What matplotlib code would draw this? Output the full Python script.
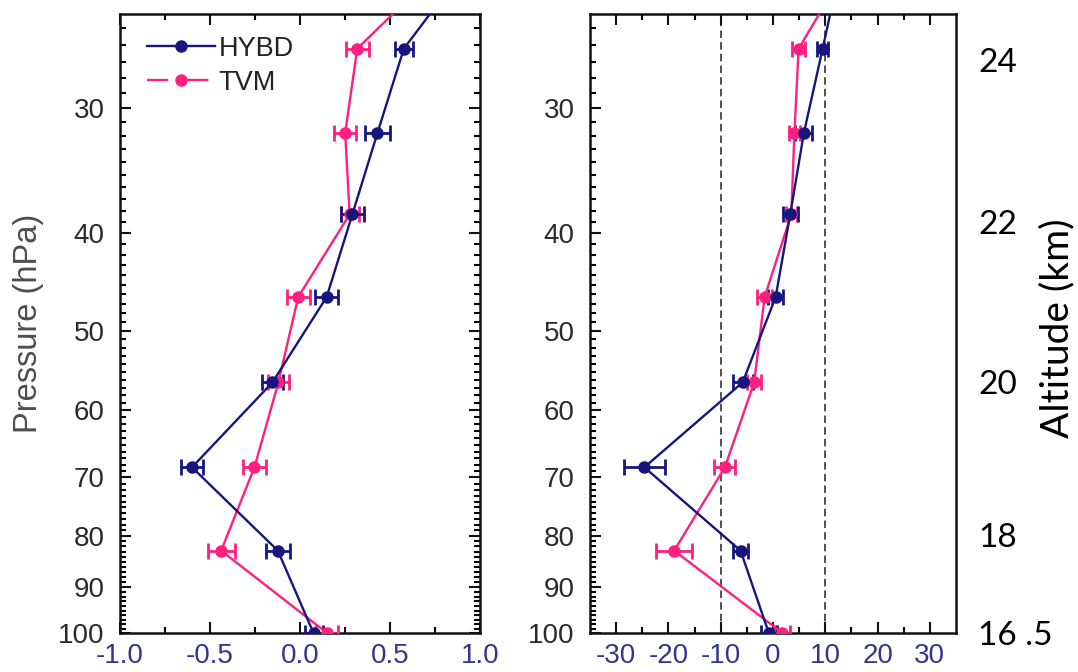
import numpy as np
import matplotlib
matplotlib.use('Agg')
import matplotlib.pyplot as plt
from matplotlib.ticker import FixedLocator, NullFormatter, NullLocator
from matplotlib.lines import Line2D

plt.rcParams['font.family'] = ['Liberation Sans', 'DejaVu Sans']

# pressure levels (hPa); the first one sits just above the plotted range
pres = [21.6, 26.2, 31.8, 38.3, 46.3, 56.3, 68.4, 82.8, 100.0]

# left panel
hybd_a = [0.93, 0.577, 0.430, 0.291, 0.148, -0.153, -0.600, -0.123, 0.075]
hybd_a_err = [0.05, 0.052, 0.068, 0.065, 0.065, 0.060, 0.060, 0.068, 0.05]
tvm_a = [0.80, 0.318, 0.251, 0.276, -0.010, -0.120, -0.253, -0.438, 0.150]
tvm_a_err = [0.06, 0.065, 0.060, 0.050, 0.065, 0.060, 0.065, 0.075, 0.06]

# right panel
hybd_b = [13.0, 9.5, 5.9, 3.3, 0.5, -5.8, -24.6, -6.2, -0.8]
hybd_b_err = [1.0, 1.0, 1.6, 1.4, 1.4, 1.9, 3.85, 1.5, 1.5]
tvm_b = [14.5, 4.9, 4.1, 3.5, -1.6, -3.6, -9.2, -18.9, 1.8]
tvm_b_err = [1.2, 1.3, 1.1, 1.0, 1.5, 1.3, 2.0, 3.45, 1.5]

p_major = [30, 40, 50, 60, 70, 80, 90, 100]
p_minor = list(range(25, 100))

alt_p = [26.9, 39.0, 56.2, 79.8, 100.0]
alt_lbl = ['24', '22', '20', '18', '16 .5']

navy = '#16167e'
pink = '#ff1f7f'
xlab_col = '#34348f'
ylab_col = '#2a2a2a'

W, H = 1078, 672
fig = plt.figure(figsize=(W/100, H/100), dpi=100)
ax1 = fig.add_axes([120/W, 1-633/H, 360/W, 619/H])
ax2 = fig.add_axes([590/W, 1-633/H, 366/W, 619/H])


def style_axis(ax):
    ax.set_yscale('log')
    ax.set_ylim(100, 24.2)
    ax.yaxis.set_major_locator(FixedLocator(p_major))
    ax.set_yticklabels([str(p) for p in p_major])
    ax.yaxis.set_minor_locator(FixedLocator(p_minor))
    ax.yaxis.set_minor_formatter(NullFormatter())
    ax.tick_params(which='both', direction='in', top=True, right=True,
                   width=1.5, labelsize=20)
    ax.tick_params(which='major', length=8)
    ax.tick_params(which='minor', length=4.5)
    ax.tick_params(axis='x', colors='#111111', labelcolor=xlab_col, pad=7)
    ax.tick_params(axis='y', colors='#111111', labelcolor=ylab_col, pad=11)
    for s in ax.spines.values():
        s.set_linewidth(1.8)
        s.set_color('#111111')


def draw(ax, x, err, col):
    ax.errorbar(x, pres, xerr=err, color=col, lw=1.7, marker='o', ms=8,
                mfc=col, mec=col, elinewidth=2.0, capsize=6, capthick=2.0,
                zorder=3)


style_axis(ax1)
draw(ax1, tvm_a, tvm_a_err, pink)
draw(ax1, hybd_a, hybd_a_err, navy)
ax1.set_xlim(-1.0, 1.0)
ax1.xaxis.set_major_locator(FixedLocator([-1.0, -0.5, 0.0, 0.5, 1.0]))
ax1.set_xticklabels(['-1.0', '-0.5', '0.0', '0.5', '1.0'])
ax1.xaxis.set_minor_locator(FixedLocator([-0.75, -0.25, 0.25, 0.75]))
ax1.set_ylabel('Pressure (hPa)', fontsize=23.5, color='#4d4d4d', labelpad=10)

handles = [Line2D([], [], color=navy, lw=1.7, marker='o', ms=8),
           Line2D([], [], color=pink, lw=1.7, marker='o', ms=8, dashes=(9, 8))]
ax1.legend(handles, ['HYBD', 'TVM'], loc='upper left', frameon=False,
           bbox_to_anchor=(0.075, 0.965), borderaxespad=0, borderpad=0,
           handlelength=2.5, handletextpad=0.15, labelspacing=0.3,
           fontsize=19.5, labelcolor='#222222')

style_axis(ax2)
ax2.axvline(-10, color='#333333', lw=1.2, dashes=(4.5, 2.5), zorder=1)
ax2.axvline(10, color='#333333', lw=1.2, dashes=(4.5, 2.5), zorder=1)
draw(ax2, tvm_b, tvm_b_err, pink)
draw(ax2, hybd_b, hybd_b_err, navy)
ax2.set_xlim(-35, 35)
ax2.xaxis.set_major_locator(FixedLocator([-30, -20, -10, 0, 10, 20, 30]))
ax2.set_xticklabels(['-30', '-20', '-10', '0', '10', '20', '30'])
ax2.xaxis.set_minor_locator(FixedLocator([-25, -15, -5, 5, 15, 25]))

# altitude scale on the right
ax3 = ax2.twinx()
ax3.set_yscale('log')
ax3.set_ylim(100, 24.2)
ax3.yaxis.set_major_locator(FixedLocator(alt_p))
ax3.set_yticklabels(alt_lbl, family='Lato', fontsize=24, color='black')
ax3.yaxis.set_minor_locator(NullLocator())
ax3.tick_params(axis='y', length=0, pad=16)
for s in ax3.spines.values():
    s.set_visible(False)

fig.text(1057/W, 1-328/H, 'Altitude (km)', rotation=90, ha='center',
         va='center', family='Lato', fontsize=28, color='black')

fig.savefig('out.png', dpi=100)
